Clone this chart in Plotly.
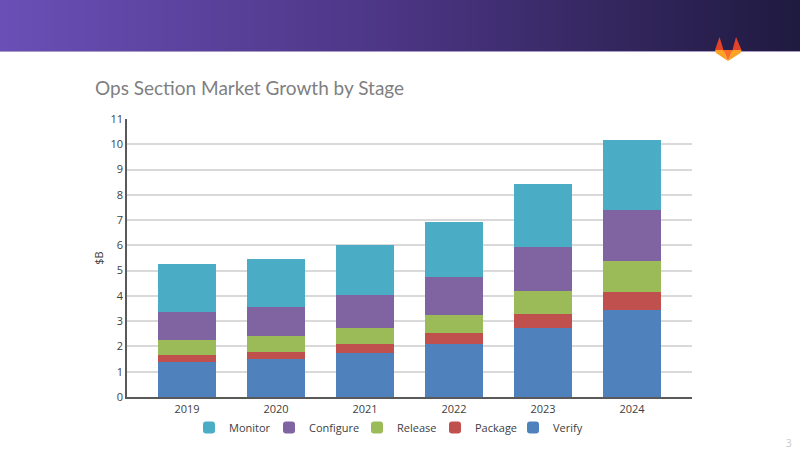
import plotly.graph_objects as go

W = 800
H = 455

years = ["2019", "2020", "2021", "2022", "2023", "2024"]
verify = [1.40, 1.50, 1.76, 2.08, 2.75, 3.45]
package = [0.28, 0.30, 0.34, 0.44, 0.53, 0.72]
release = [0.57, 0.63, 0.62, 0.73, 0.92, 1.20]
configure = [1.12, 1.15, 1.31, 1.50, 1.75, 2.03]
monitor = [1.90, 1.90, 1.99, 2.18, 2.48, 2.77]
y_ticks = list(range(0, 12))

# name, values, colour, legend entry width in px
series = [
    ("Verify", verify, "#4f81bd", 30),
    ("Package", package, "#c0504d", 33),
    ("Release", release, "#9bbb59", 33),
    ("Configure", configure, "#8064a2", 43),
    ("Monitor", monitor, "#4bacc6", 35),
]


def px(x):
    return x / W


def py(y):
    return 1 - y / H


def poly(points, color):
    # logo pieces, given in pixels of the slide
    path = "M " + " L ".join(f"{px(x):.4f},{py(y):.4f}" for x, y in points) + " Z"
    return dict(type="path", xref="paper", yref="paper", path=path,
                fillcolor=color, line=dict(width=0), layer="above")


fig = go.Figure()
for name, vals, color, lw in series:
    fig.add_trace(go.Bar(x=years, y=vals, name=name, legendwidth=lw,
                         marker=dict(color=color, line=dict(width=0))))

# header band, on its own axes so it can carry a gradient
fig.add_trace(go.Heatmap(z=[[0, 0.5, 1]], x=[0, 1, 2], y=[0], xaxis="x2", yaxis="y2", zsmooth="best",
                         showscale=False, hoverinfo="skip",
                         colorscale=[[0, "#6a4fb6"], [0.5, "#4b3583"], [1, "#1f1a3f"]]))

fig.update_layout(
    width=W, height=H,
    margin=dict(l=0, r=0, t=0, b=0, autoexpand=False),
    paper_bgcolor="white", plot_bgcolor="white",
    barmode="stack", bargap=0.348, barcornerradius=2,
    font=dict(family="Open Sans", color="#404040"),
    xaxis=dict(domain=[px(127), px(692)], range=[-0.674, 5.674], type="category", showline=True,
               linecolor="#595959", linewidth=1.5, ticks="", ticklabelstandoff=1,
               tickfont=dict(size=11, color="#404040"), anchor="y"),
    yaxis=dict(domain=[py(397), py(119)], range=[0, 11], tickvals=y_ticks, showline=True,
               linecolor="#595959", linewidth=1.5, gridcolor="#d9d9d9", gridwidth=1.5, ticks="",
               tickfont=dict(size=11, color="#404040"), zeroline=False, anchor="x",
               title=dict(text="$B", font=dict(size=11, color="#404040"), standoff=5)),
    xaxis2=dict(domain=[0, 1], range=[0, 2], visible=False, anchor="y2"),
    yaxis2=dict(domain=[py(51), 1], range=[-0.5, 0.5], visible=False, anchor="x2"),
    legend=dict(orientation="h", traceorder="reversed", x=px(189), xanchor="left", y=py(413), yanchor="top",
                font=dict(size=11, color="#404040"), bgcolor="rgba(0,0,0,0)"),
    showlegend=True,
    shapes=[
        dict(type="line", xref="paper", yref="paper", x0=0, x1=1, y0=py(51.5), y1=py(51.5),
             line=dict(color="#a99bc8", width=1)),
        poly([(719.5, 37), (723.5, 50), (715, 50)], "#e24329"),
        poly([(736, 37), (741.5, 50), (732.5, 50)], "#e24329"),
        poly([(715, 50), (723.5, 50), (728, 61), (716, 53)], "#fca326"),
        poly([(741.5, 50), (732.5, 50), (728, 61), (740.5, 53)], "#fca326"),
        poly([(723.5, 50), (732.5, 50), (728, 61)], "#fc6d26"),
    ],
    annotations=[
        dict(text="Ops Section Market Growth by Stage", xref="paper", yref="paper", x=px(93), y=py(88),
             xanchor="left", yanchor="middle", showarrow=False,
             font=dict(family="Lato", size=19, color="#7f7f7f")),
        dict(text="3", xref="paper", yref="paper", x=px(789), y=py(443), xanchor="center", yanchor="middle",
             showarrow=False, font=dict(size=10, color="#c8c8c8")),
    ],
)

# the page's default body margin would shift the whole slide
fig.write_html("out.html", config=dict(displayModeBar=False),
               post_script="document.body.style.margin = '0';")
